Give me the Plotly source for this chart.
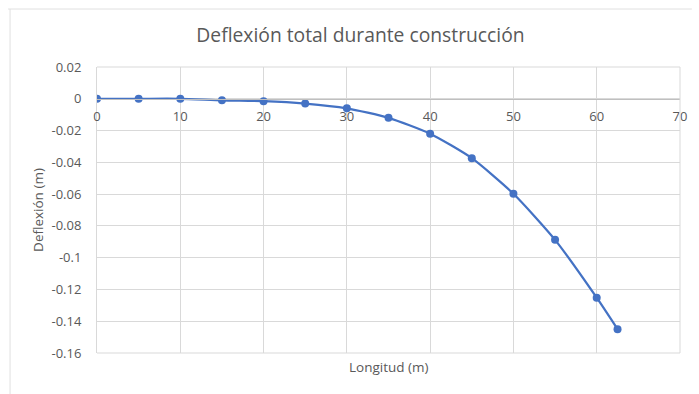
import plotly.graph_objects as go

# Deflection along the girder during construction
longitud = [0, 5, 10, 15, 20, 25, 30, 35, 40, 45, 50, 55, 60, 62.5]
deflexion = [0.0, 0.0, 0.0, -0.001, -0.0015, -0.003, -0.006, -0.012,
             -0.022, -0.0374, -0.0598, -0.0888, -0.1252, -0.145]

x_ticks = [0, 10, 20, 30, 40, 50, 60, 70]
x_labels = ["0", "10", "20", "30", "40", "50", "60", "70"]
y_ticks = [0.02, 0, -0.02, -0.04, -0.06, -0.08, -0.1, -0.12, -0.14, -0.16]
y_labels = ["0.02", "0", "-0.02", "-0.04", "-0.06", "-0.08", "-0.1", "-0.12", "-0.14", "-0.16"]

FONT = "Open Sans"
GRAY = "#595959"
GRID = "#d9d9d9"

W, H = 699, 394
ML, MR, MT, MB = 97, 12, 67, 41
ymin, ymax = -0.16, 0.02
zero_pos = (0 - ymin) / (ymax - ymin)  # fraction of plot height where y = 0

fig = go.Figure()
fig.add_trace(go.Scatter(
    x=longitud, y=deflexion, mode="lines+markers",
    line=dict(color="#4472C4", width=2.25, shape="spline", smoothing=0.6),
    marker=dict(color="#4472C4", size=8),
    showlegend=False,
))

fig.update_layout(
    width=W, height=H,
    margin=dict(l=ML, r=MR, t=MT, b=MB),
    paper_bgcolor="white", plot_bgcolor="white",
    font=dict(family=FONT, color=GRAY, size=13),
    title=dict(text="Deflexión total durante construcción",
               x=360.5 / W, xanchor="center", y=1 - 35 / H, yanchor="middle",
               font=dict(size=19.3, color=GRAY, family=FONT)),
    xaxis=dict(
        range=[0, 70], tickvals=x_ticks, ticktext=x_labels,
        showgrid=True, gridcolor=GRID, gridwidth=1,
        zeroline=False, showline=True, linecolor="#bfbfbf", linewidth=1,
        anchor="free", position=zero_pos, ticks="",
        ticklabelstandoff=6,
        tickfont=dict(size=13, color=GRAY, family=FONT),
        mirror=False,
    ),
    yaxis=dict(
        range=[ymin, ymax], tickvals=y_ticks, ticktext=y_labels,
        showgrid=True, gridcolor=GRID, gridwidth=1,
        zeroline=False, showline=True, linecolor=GRID, linewidth=1,
        ticks="", ticklabelstandoff=12,
        tickfont=dict(size=13, color=GRAY, family=FONT),
        title=dict(text="Deflexión (m)", standoff=4,
                   font=dict(size=13.5, color=GRAY, family=FONT)),
    ),
    annotations=[dict(
        text="Longitud (m)", xref="paper", yref="paper",
        x=0.5, y=-(367 - (H - MB)) / (H - MT - MB), xanchor="center", yanchor="middle",
        showarrow=False, font=dict(size=13.5, color=GRAY, family=FONT),
    )],
)

# right, top and bottom edges of the plot area
pw, ph = W - ML - MR, H - MT - MB
fig.add_shape(type="line", xref="paper", yref="paper", x0=1, x1=1, y0=0, y1=1,
              line=dict(color=GRID, width=1))
fig.add_shape(type="line", xref="paper", yref="paper", x0=0, x1=1, y0=1, y1=1,
              line=dict(color=GRID, width=1))
fig.add_shape(type="line", xref="paper", yref="paper", x0=0, x1=1, y0=0, y1=0,
              line=dict(color=GRID, width=1))

# chart frame
frame_top = (H - MB - 9) / ph
frame_left = (9 - ML) / pw
fig.add_shape(type="line", xref="paper", yref="paper",
              x0=(7 - ML) / pw, x1=(W - ML) / pw, y0=frame_top, y1=frame_top,
              line=dict(color="#e0e0e0", width=1))
fig.add_shape(type="line", xref="paper", yref="paper",
              x0=frame_left, x1=frame_left, y0=frame_top, y1=-MB / ph,
              line=dict(color="#e0e0e0", width=1))

fig.write_html("out.html")
